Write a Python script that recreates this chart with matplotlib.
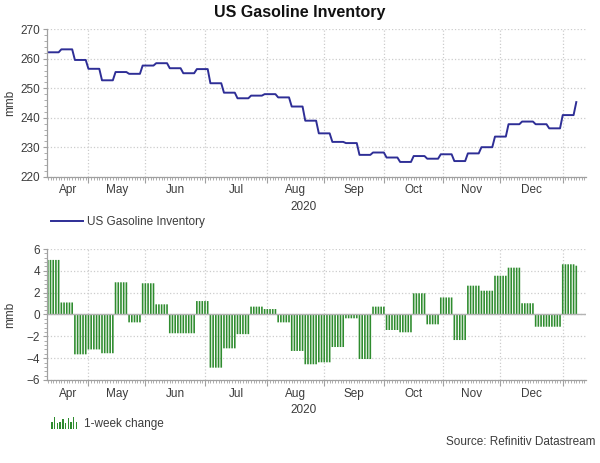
import numpy as np
import pandas as pd
import matplotlib
matplotlib.use('Agg')
import matplotlib.pyplot as plt
import matplotlib.transforms as mtransforms
from matplotlib.legend_handler import HandlerBase
from matplotlib.lines import Line2D
from matplotlib.patches import Rectangle

plt.rcParams['font.family'] = ['Liberation Sans', 'DejaVu Sans']

# weekly EIA readings (week ending Friday)
week_start = '2020-04-10'
week_end = '2021-01-08'
inventory = [262.2, 263.2, 259.6, 256.6, 252.7, 255.5, 254.9, 257.7, 258.5, 256.8,
             255.1, 256.5, 251.7, 248.5, 246.6, 247.5, 248.0, 246.9, 243.8, 239.0,
             234.7, 231.8, 231.4, 227.4, 228.2, 226.5, 225.0, 227.0, 226.1, 227.6,
             225.3, 227.9, 230.0, 233.6, 237.8, 238.7, 237.8, 236.4, 240.9, 245.3]
week_change = [5.0, 1.1, -3.65, -3.2, -3.55, 2.95, -0.72, 2.86, 0.93, -1.72,
               -1.72, 1.23, -4.87, -3.1, -1.8, 0.72, 0.5, -0.72, -3.34, -4.56,
               -4.38, -2.98, -0.35, -4.08, 0.72, -1.42, -1.63, 1.94, -0.9, 1.56,
               -2.34, 2.64, 2.18, 3.55, 4.29, 1.03, -1.12, -1.12, 4.6, 4.47]
month_labels = ['Apr', 'May', 'Jun', 'Jul', 'Aug', 'Sep', 'Oct', 'Nov', 'Dec']
year_label = '2020'

LINE_COLOR = '#2e2e96'
BAR_COLOR = '#2f8c2f'
GRID_COLOR = '#cccccc'
AXIS_COLOR = '#a0a0a0'
TEXT_COLOR = '#3c3c3c'


class BarsHandler(HandlerBase):
    # little bar-chart icon like the original legend
    def create_artists(self, legend, orig_handle, xdescent, ydescent,
                       width, height, fontsize, trans):
        hs = [0.55, 1.0, 0.5, 0.55, 0.85, 0.5, 0.9, 0.6, 1.0, 0.55]
        step = width / len(hs)
        arts = []
        for i, h in enumerate(hs):
            r = Rectangle((-xdescent + i * step, -ydescent - 0.25 * height),
                          step * 0.5, height * 1.45 * h,
                          facecolor=BAR_COLOR, lw=0, transform=trans)
            arts.append(r)
        return arts


def daily_series(values):
    weeks = pd.date_range(week_start, week_end, freq='W-FRI')
    days = pd.bdate_range(week_start, week_end)
    s = pd.Series(values, index=weeks).reindex(days).ffill()
    return days, s.values


def style_time_axis(ax, days, xmax):
    x_left = -0.3
    ax.set_xlim(x_left, xmax)
    months = pd.date_range('2020-05-01', '2021-01-01', freq='MS')
    bounds = [int(np.searchsorted(days, m)) for m in months]
    ax.set_xticks(bounds)
    ax.set_xticklabels([])
    ax.set_xticks(np.arange(0, xmax), minor=True)
    ax.tick_params(axis='x', which='major', length=4, width=0.8, color=AXIS_COLOR)
    ax.tick_params(axis='x', which='minor', length=2, width=0.6, color=AXIS_COLOR)
    ax.grid(axis='x', which='major', color=GRID_COLOR, linestyle=':', lw=0.9)
    ax.grid(axis='y', which='major', color=GRID_COLOR, linestyle=':', lw=0.9)
    edges = [x_left] + bounds
    return edges


def put_month_labels(ax, edges, y_lab, y_year):
    tr = mtransforms.blended_transform_factory(ax.transData, ax.transAxes)
    for lab, a, b in zip(month_labels, edges[:-1], edges[1:]):
        ax.text((a + b) / 2, y_lab, lab, transform=tr, ha='center', va='center',
                fontsize=8.5, color=TEXT_COLOR)
    ax.text(0.476, y_year, year_label, transform=ax.transAxes, ha='center',
            va='center', fontsize=8.5, color=TEXT_COLOR)


def style_axes(ax):
    for side in ['top', 'right']:
        ax.spines[side].set_visible(False)
    for side in ['left', 'bottom']:
        ax.spines[side].set_color(AXIS_COLOR)
        ax.spines[side].set_linewidth(0.9)
    ax.tick_params(axis='y', which='major', length=3, width=0.8, color=AXIS_COLOR,
                   labelsize=8.5, labelcolor=TEXT_COLOR, pad=2)
    ax.tick_params(axis='y', which='minor', length=2, width=0.6, color=AXIS_COLOR)
    ax.set_ylabel('mmb', fontsize=8.5, color=TEXT_COLOR)
    ax.yaxis.set_label_coords(-0.058, 0.5)
    ax.set_axisbelow(True)


fig = plt.figure(figsize=(6.0, 4.63), dpi=100)
ax1 = fig.add_axes([0.0783, 0.6184, 0.898, 0.3183])
ax2 = fig.add_axes([0.0783, 0.1793, 0.898, 0.2829])

fig.text(0.5, 0.974, 'US Gasoline Inventory', ha='center', va='center',
         fontsize=11.5, fontweight='bold', color='#111111')

# top panel: inventory level
days, inv_daily = daily_series(inventory)
x = np.arange(len(days))
xmax = len(days) + 2.5
ax1.plot(x, inv_daily, color=LINE_COLOR, lw=1.4)
ax1.set_ylim(220, 270)
ax1.set_yticks(np.arange(220, 271, 10))
ax1.set_yticks(np.arange(220, 271, 2), minor=True)
style_axes(ax1)
edges = style_time_axis(ax1, days, xmax)
put_month_labels(ax1, edges, -0.093, -0.204)
ax1.legend([Line2D([], [], color=LINE_COLOR, lw=1.4)], ['US Gasoline Inventory'],
           loc='center left', bbox_to_anchor=(0.008, -0.31), frameon=False,
           fontsize=8.5, borderpad=0, borderaxespad=0, handlelength=2.7,
           handletextpad=0.35, labelcolor=TEXT_COLOR)

# bottom panel: weekly change
_, chg_daily = daily_series(week_change)
ax2.bar(x, chg_daily, width=0.6, color=BAR_COLOR, lw=0, snap=False)
ax2.axhline(0, color='#b4b4b4', lw=1.0, zorder=1)
ax2.set_ylim(-6, 6)
ax2.set_yticks(np.arange(-6, 7, 2))
ax2.set_yticks(np.arange(-6, 6.01, 0.4), minor=True)
style_axes(ax2)
edges = style_time_axis(ax2, days, xmax)
put_month_labels(ax2, edges, -0.107, -0.229)
ax2.legend([Rectangle((0, 0), 1, 1)], ['1-week change'],
           handler_map={Rectangle: BarsHandler()},
           loc='center left', bbox_to_anchor=(0.008, -0.336), frameon=False,
           fontsize=8.5, borderpad=0, borderaxespad=0, handlelength=2.3,
           handletextpad=0.5, labelcolor=TEXT_COLOR)

fig.text(595 / 600, 1 - 441.7 / 463, 'Source: Refinitiv Datastream', ha='right',
         va='center', fontsize=8.5, color=TEXT_COLOR)

fig.savefig('out.png', dpi=100)
